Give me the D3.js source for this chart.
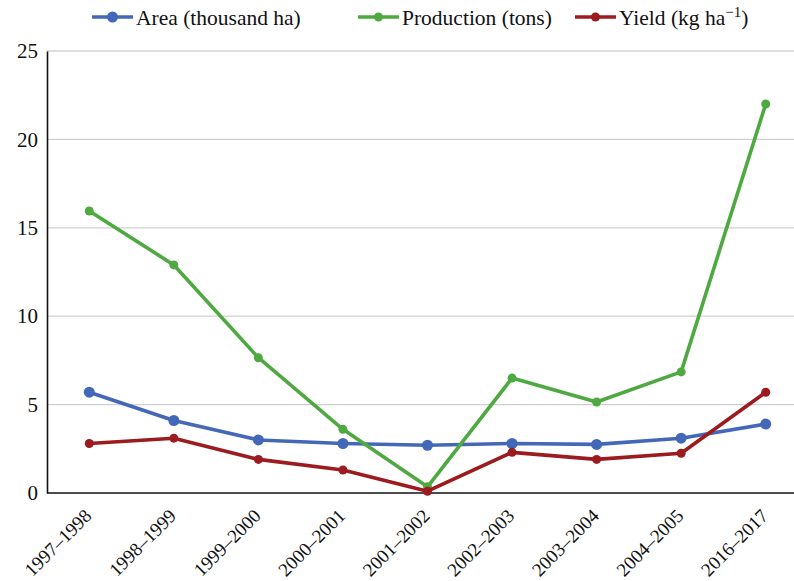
<!DOCTYPE html>
<html>
<head>
<meta charset="utf-8">
<script src="https://cdn.jsdelivr.net/npm/d3@7"></script>
<style>
  html, body { margin: 0; padding: 0; background: #fff; }
  svg { display: block; }
  svg text { font-family: "Liberation Serif", "Times New Roman", Times, "DejaVu Serif", serif !important; fill: #111; }
</style>
</head>
<body>
<svg id="chart" width="794" height="581"></svg>
<script>
// Seasons on the x axis
const seasons = ["1997–1998", "1998–1999", "1999–2000", "2000–2001", "2001–2002",
                 "2002–2003", "2003–2004", "2004–2005", "2016–2017"];

// Series values per season
const area       = [5.7, 4.1, 3.0, 2.8, 2.7, 2.8, 2.75, 3.1, 3.9];
const production = [15.95, 12.9, 7.65, 3.6, 0.35, 6.5, 5.15, 6.85, 22.0];
const yieldVals  = [2.8, 3.1, 1.9, 1.3, 0.1, 2.3, 1.9, 2.25, 5.7];

// Y axis ticks
const yTicks = [0, 5, 10, 15, 20, 25];

const seriesNames  = ["Area (thousand ha)", "Production (tons)", "Yield (kg ha"];
const seriesColors = ["#4468b8", "#4ea941", "#9b1b1f"];

const series = [
  { name: seriesNames[0], values: area,       color: seriesColors[0], r: 5.5 },
  { name: seriesNames[1], values: production, color: seriesColors[1], r: 4.5 },
  { name: seriesNames[2], values: yieldVals,  color: seriesColors[2], r: 4.5 }
];

const svg = d3.select("#chart");
const plotLeft = 47, plotRight = 808, plotTop = 51, plotBottom = 493;
const serif = "'Liberation Serif', 'Times New Roman', Times, serif";

const x = d3.scalePoint().domain(seasons).range([plotLeft, plotRight]).padding(0.5);
const y = d3.scaleLinear().domain([0, 25]).range([plotBottom, plotTop]);

// Horizontal gridlines
svg.append("g")
  .selectAll("line")
  .data(yTicks.filter(t => t > 0))
  .join("line")
  .attr("x1", plotLeft).attr("x2", 794)
  .attr("y1", d => y(d)).attr("y2", d => y(d))
  .attr("stroke", "#d0d0d0").attr("stroke-width", 1.3);

// Y axis
const yAxis = svg.append("g")
  .attr("transform", `translate(${plotLeft},0)`)
  .call(d3.axisLeft(y).tickValues(yTicks).tickSize(0).tickPadding(9));
yAxis.attr("font-family", serif);
yAxis.select(".domain").attr("stroke", "#111").attr("stroke-width", 1.6);
yAxis.selectAll("text")
  .style("font-size", "21px").attr("fill", "#111");

// X axis with slanted season labels
const xAxis = svg.append("g")
  .attr("transform", `translate(0,${plotBottom})`)
  .call(d3.axisBottom(x).tickSize(0).tickPadding(0));
xAxis.attr("font-family", serif);
xAxis.select(".domain").attr("d", `M${plotLeft},0H794`).attr("stroke", "#111").attr("stroke-width", 1.6);
xAxis.selectAll("text")
  .style("font-size", "19px").attr("fill", "#111")
  .attr("text-anchor", "end")
  .attr("dy", 0)
  .attr("transform", "translate(3,24) rotate(-45)");

// Lines and markers
const line = d3.line().x((d, i) => x(seasons[i])).y(d => y(d));
series.forEach(s => {
  const g = svg.append("g");
  g.append("path")
    .datum(s.values)
    .attr("d", line)
    .attr("fill", "none")
    .attr("stroke", s.color)
    .attr("stroke-width", 3.6)
    .attr("stroke-linejoin", "round");
  g.selectAll("circle")
    .data(s.values)
    .join("circle")
    .attr("cx", (d, i) => x(seasons[i]))
    .attr("cy", d => y(d))
    .attr("r", s.r)
    .attr("fill", s.color);
});

// Legend
const legendX = [92, 358, 575];
const legend = svg.append("g").attr("font-family", serif);
series.forEach((s, i) => {
  const g = legend.append("g").attr("transform", `translate(${legendX[i]},17)`);
  g.append("line").attr("x1", 0).attr("x2", 41).attr("y1", 0).attr("y2", 0)
    .attr("stroke", s.color).attr("stroke-width", 3.6);
  g.append("circle").attr("cx", 20.5).attr("cy", 0).attr("r", s.r).attr("fill", s.color);
  const t = g.append("text").attr("x", 44).attr("y", 7.5)
    .style("font-size", "21.5px").text(s.name);
  if (i === 2) {
    t.append("tspan").attr("dy", -8).style("font-size", "15px").text("−1");
    t.append("tspan").attr("dy", 8).text(")");
  }
});
</script>
</body>
</html>
